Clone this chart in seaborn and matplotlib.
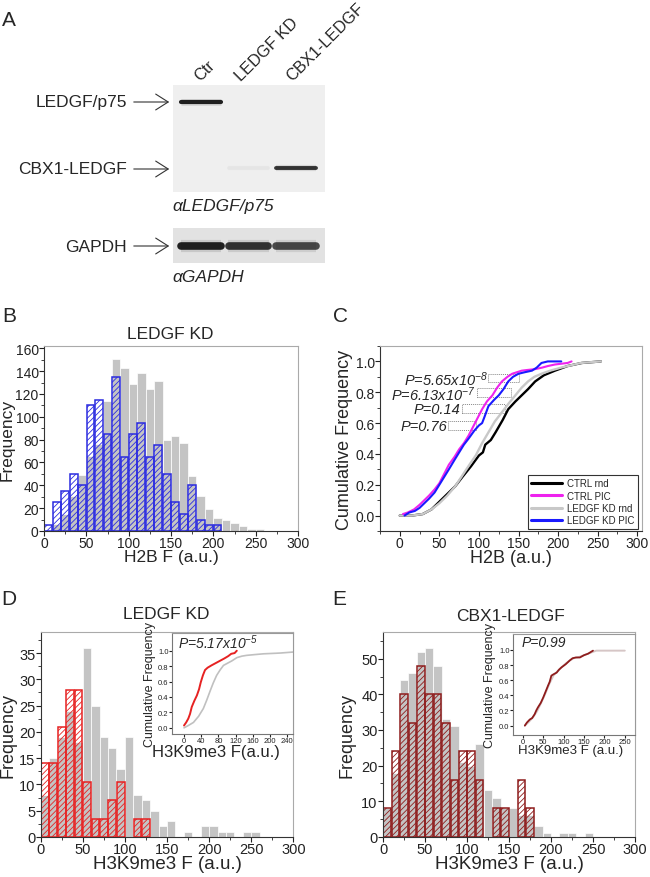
import matplotlib
matplotlib.use("Agg")
import matplotlib.pyplot as plt
import seaborn as sns
from matplotlib.patches import Rectangle, FancyArrowPatch
from matplotlib.lines import Line2D
from matplotlib.ticker import MultipleLocator

sns.set_style("ticks")
plt.rcParams['font.family'] = ['Liberation Sans', 'DejaVu Sans']
plt.rcParams['mathtext.fontset'] = 'custom'
plt.rcParams['mathtext.rm'] = 'Liberation Sans:italic'
plt.rcParams['mathtext.it'] = 'Liberation Sans:italic'
plt.rcParams['hatch.linewidth'] = 0.6

# ---------------- data ----------------
# A: western blot, band signal per lane (0 = no band)
lanes = ["Ctr", "LEDGF KD", "CBX1-LEDGF"]
ledgf_p75 = [0.95, 0.0, 0.0]
cbx1_ledgf = [0.0, 0.04, 0.85]
gapdh = [0.95, 0.85, 0.75]

# B: H2B F histogram (LEDGF KD), bins of 10 starting at 0
bins = list(range(0, 270, 10))
h2b_rnd = [0, 6, 15, 31, 49, 66, 76, 114, 151, 143, 129, 138, 124, 131, 80, 83, 77, 48, 31, 19, 11, 10, 7, 4, 2, 2]
h2b_pic = [5, 25, 35, 50, 40, 110, 115, 85, 135, 65, 85, 95, 65, 75, 50, 25, 15, 40, 10, 5, 5]

# C: cumulative frequency of H2B
ctrl_rnd_x = [0, 15, 29, 40, 50, 60, 70, 79, 90, 100, 105, 108, 115, 121, 130, 137, 146, 154, 162, 171, 182, 196, 212, 230, 254]
ctrl_rnd_y = [0, 0, 0.01, 0.04, 0.09, 0.14, 0.19, 0.25, 0.32, 0.39, 0.41, 0.46, 0.49, 0.54, 0.62, 0.69, 0.74, 0.78, 0.82, 0.87, 0.91, 0.94, 0.97, 0.99, 1.0]
ctrl_pic_x = [4, 10, 18, 25, 31, 37, 44, 50, 56, 62, 69, 75, 81, 87, 92, 96, 100, 104, 110, 117, 123, 129, 136, 142, 148, 154, 162, 171, 180, 187, 196, 204, 212, 217]
ctrl_pic_y = [0.01, 0.02, 0.04, 0.07, 0.10, 0.13, 0.17, 0.21, 0.27, 0.33, 0.38, 0.43, 0.47, 0.52, 0.57, 0.61, 0.65, 0.69, 0.74, 0.78, 0.83, 0.87, 0.90, 0.92, 0.93, 0.94, 0.945, 0.95, 0.96, 0.97, 0.98, 0.985, 0.99, 1.0]
kd_rnd_x = [0, 15, 29, 40, 50, 60, 70, 79, 88, 96, 104, 112, 120, 129, 138, 146, 154, 162, 170, 179, 190, 204, 229, 254]
kd_rnd_y = [0, 0, 0.01, 0.04, 0.08, 0.13, 0.19, 0.26, 0.33, 0.39, 0.47, 0.54, 0.61, 0.67, 0.73, 0.78, 0.83, 0.87, 0.90, 0.92, 0.94, 0.96, 0.99, 1.0]
kd_pic_x = [6, 12, 19, 25, 31, 37, 44, 50, 56, 62, 69, 75, 81, 87, 94, 100, 104, 107, 112, 119, 125, 131, 137, 143, 150, 158, 167, 173, 179, 187, 195, 204]
kd_pic_y = [0, 0.02, 0.03, 0.05, 0.08, 0.11, 0.15, 0.20, 0.25, 0.30, 0.36, 0.41, 0.46, 0.50, 0.55, 0.585, 0.60, 0.64, 0.71, 0.75, 0.78, 0.82, 0.87, 0.90, 0.92, 0.93, 0.94, 0.96, 0.99, 1.0, 1.0, 1.0]
p_labels = [r"P=5.65x10$^{-8}$", r"P=6.13x10$^{-7}$", "P=0.14", "P=0.76"]

# D: H3K9me3 F histogram (LEDGF KD)
d_rnd = [8, 15, 19, 24, 18, 36, 25, 19, 17, 13, 19, 8, 7, 5, 2, 3, 0, 1, 0, 2, 2, 1, 1, 0, 1, 1]
d_pic = [14, 14, 21, 28, 28, 10.5, 3.5, 3.5, 7, 10.5, 0, 3.5, 3.5]
d_rnd_cx = [0, 10, 22, 34, 45, 53, 61, 68, 76, 84, 92, 102, 112, 123, 135, 146, 165, 185, 205, 224, 259]
d_rnd_cy = [0, 0.03, 0.07, 0.15, 0.25, 0.36, 0.48, 0.58, 0.68, 0.75, 0.81, 0.84, 0.87, 0.91, 0.93, 0.94, 0.95, 0.96, 0.965, 0.97, 0.985]
d_pic_cx = [0, 5, 10, 14, 18, 24, 30, 35, 39, 44, 49, 55, 64, 74, 84, 94, 103, 110, 118, 123]
d_pic_cy = [0.03, 0.07, 0.12, 0.18, 0.27, 0.35, 0.42, 0.50, 0.59, 0.68, 0.75, 0.78, 0.81, 0.84, 0.87, 0.90, 0.93, 0.96, 0.97, 1.0]

# E: H3K9me3 F histogram (CBX1-LEDGF)
e_rnd = [8, 18, 44, 46, 52, 53, 48, 33, 31, 21, 20, 26, 13, 11, 8, 8, 6, 6, 3, 1, 0, 1, 1, 0, 1]
e_pic = [8, 24, 40, 32, 48, 40, 40, 32, 16, 24, 24, 16, 0, 8, 8, 0, 16, 8]
e_rnd_cx = [5, 15, 25, 35, 45, 55, 65, 75, 85, 95, 105, 115, 125, 140, 155, 170, 180, 200, 225, 250]
e_rnd_cy = [0.0, 0.05, 0.11, 0.19, 0.30, 0.42, 0.55, 0.66, 0.72, 0.77, 0.82, 0.86, 0.89, 0.91, 0.94, 0.97, 0.99, 0.99, 0.99, 0.99]
e_pic_cx = [5, 10, 17, 23, 29, 33, 37, 44, 50, 56, 62, 66, 70, 76, 83, 89, 95, 105, 115, 122, 130, 140, 150, 160, 172]
e_pic_cy = [0.0, 0.04, 0.08, 0.10, 0.15, 0.20, 0.24, 0.30, 0.37, 0.45, 0.53, 0.58, 0.66, 0.68, 0.70, 0.74, 0.77, 0.81, 0.86, 0.89, 0.90, 0.90, 0.93, 0.95, 0.99]

GRAY = "#c4c4c4"
BLUE = "#2b2be0"
RED = "#e62222"
DARKRED = "#8e1c1c"

W, H = 650, 878
fig = plt.figure(figsize=(W / 100, H / 100), dpi=100)


def fx(px):
    return px / W


def fy(py):
    return 1 - py / H


def axes_px(left, top, right, bottom):
    return fig.add_axes([fx(left), fy(bottom), (right - left) / W, (bottom - top) / H])


def style_axes(ax, labelsize=10, major=3.5, minor=2, pad=0.3, frame="#aaaaaa"):
    for side in ["left", "bottom"]:
        ax.spines[side].set_color("#333333")
        ax.spines[side].set_linewidth(0.8)
    for side in ["top", "right"]:
        ax.spines[side].set_visible(True)
        ax.spines[side].set_color(frame)
        ax.spines[side].set_linewidth(0.8)
    ax.tick_params(which="major", direction="out", length=major, width=0.8, labelsize=labelsize,
                   pad=pad, colors="#222222")
    ax.tick_params(which="minor", direction="out", length=minor, width=0.6, colors="#222222")


def hist_layer(ax, counts, color, hatched=False):
    centers = [b + 5 for b in bins[:len(counts)]]
    edges = bins[:len(counts) + 1]
    n0 = len(ax.patches)
    sns.histplot(x=centers, weights=counts, bins=edges, ax=ax, color=color, alpha=1,
                 shrink=0.92 if hatched else 1.0,
                 edgecolor="white" if not hatched else color,
                 linewidth=0.5 if not hatched else 1.1)
    for p in ax.patches[n0:]:
        if p.get_height() == 0:
            p.set_visible(False)
            continue
        if hatched:
            p.set_facecolor("none")
            p.set_edgecolor(color)
            p.set_hatch("//////")
            if hasattr(p, "set_hatchcolor"):
                p.set_hatchcolor(color)


def cdf_line(ax, xs, ys, color, lw):
    sns.lineplot(x=xs, y=ys, ax=ax, color=color, linewidth=lw, estimator=None, sort=False,
                 legend=False)


# ---------------- A: blot ----------------
blot1 = axes_px(173, 86, 325, 193)
blot2 = axes_px(173, 229, 325, 264)
for ax, bg in [(blot1, "#efefef"), (blot2, "#e2e2e2")]:
    ax.set_facecolor(bg)
    ax.set_xlim(-0.59, 2.61)
    ax.set_ylim(0, 1)
    ax.set_xticks([])
    ax.set_yticks([])
    for s in ax.spines.values():
        s.set_visible(False)


def bands(ax, signal, row, lw):
    for i, s in enumerate(signal):
        if s <= 0:
            continue
        ax.plot([i - 0.43, i + 0.43], [row, row], color="black", alpha=s * 0.12, lw=lw * 1.6,
                solid_capstyle="butt")
        ax.plot([i - 0.42, i + 0.42], [row, row], color="#151515", alpha=s, lw=lw,
                solid_capstyle="round")


bands(blot1, ledgf_p75, 0.84, 3.0)
bands(blot1, cbx1_ledgf, 0.22, 2.8)
bands(blot2, gapdh, 0.5, 5.5)

lane_label_px = [(200, 82), (241, 82), (292, 82)]
for name, (px, py) in zip(lanes, lane_label_px):
    fig.text(fx(px), fy(py), name, rotation=45, rotation_mode="anchor", ha="left",
             va="baseline", fontsize=11.8)

for name, py in [("LEDGF/p75", 103), ("CBX1-LEDGF", 170), ("GAPDH", 247)]:
    fig.text(fx(127), fy(py), name, ha="right", va="center", fontsize=12.5)
    fig.add_artist(FancyArrowPatch(
        (fx(131), fy(py)), (fx(172), fy(py)), transform=fig.transFigure,
        arrowstyle="->,head_length=3.0,head_width=1.9", color="#333333", lw=0.8,
        mutation_scale=3))
fig.text(fx(172), fy(207), "αLEDGF/p75", style="italic", fontsize=12.5, va="center")
fig.text(fx(172), fy(278), "αGAPDH", style="italic", fontsize=12.5, va="center")

# panel letters
for letter, px, py in [("A", 9, 20), ("B", 9, 317), ("C", 340, 317), ("D", 9, 600), ("E", 339, 600)]:
    fig.text(fx(px), fy(py), letter, ha="center", va="center", fontsize=15)

# ---------------- B ----------------
axB = axes_px(44, 347, 298, 532)
hist_layer(axB, h2b_rnd, GRAY)
hist_layer(axB, h2b_pic, BLUE, hatched=True)
axB.set_xlim(0, 300)
axB.set_ylim(0, 162)
axB.set_xticks(range(0, 301, 50))
axB.set_yticks(range(0, 161, 20))
axB.xaxis.set_minor_locator(MultipleLocator(25))
axB.yaxis.set_minor_locator(MultipleLocator(10))
style_axes(axB)
axB.set_xlabel("H2B F (a.u.)", fontsize=12.5)
axB.set_ylabel("Frequency", fontsize=12.5)
axB.xaxis.set_label_coords(0.5, -0.1)
axB.yaxis.set_label_coords(-0.115, 0.5)
axB.text(0.496, 1.065, "LEDGF KD", transform=axB.transAxes, ha="center", va="center", fontsize=12.5)

# ---------------- C ----------------
axC = axes_px(380, 347, 642, 532)
cdf_line(axC, ctrl_rnd_x, ctrl_rnd_y, "black", 1.7)
cdf_line(axC, kd_rnd_x, kd_rnd_y, "#c8c8c8", 1.7)
cdf_line(axC, ctrl_pic_x, ctrl_pic_y, "#ee22ee", 1.5)
cdf_line(axC, kd_pic_x, kd_pic_y, "#1a1aff", 1.5)
axC.set_xlim(-25, 306)
axC.set_ylim(-0.1, 1.1)
axC.set_xticks(range(0, 301, 50))
axC.set_yticks([0, 0.2, 0.4, 0.6, 0.8, 1.0])
axC.set_yticklabels(["0.0", "0.2", "0.4", "0.6", "0.8", "1.0"])
axC.xaxis.set_minor_locator(MultipleLocator(25))
axC.yaxis.set_minor_locator(MultipleLocator(0.1))
style_axes(axC)
axC.set_xlabel("H2B (a.u.)", fontsize=13)
axC.set_ylabel("Cumulative Frequency", fontsize=13)
axC.xaxis.set_label_coords(0.5, -0.1)
axC.yaxis.set_label_coords(-0.103, 0.5)

brackets = [(112, 150, 0.866, 0.92), (97, 140, 0.767, 0.827), (78, 133, 0.667, 0.723), (61, 96, 0.557, 0.613)]
for lab, (x0, x1, y0, y1) in zip(p_labels, brackets):
    axC.add_patch(Rectangle((x0, y0), x1 - x0, y1 - y0, fill=False, linestyle=(0, (1, 1)),
                            edgecolor="#888888", lw=0.7))
    axC.text(x0 - 1, (y0 + y1) / 2 - 0.005, lab, ha="right", va="center", fontsize=10.5,
             style="italic")

handles = [Line2D([], [], color="black", lw=2.2), Line2D([], [], color="#ee22ee", lw=2.2),
           Line2D([], [], color="#c8c8c8", lw=2.2), Line2D([], [], color="#1a1aff", lw=2.2)]
leg = axC.legend(handles, ["CTRL rnd", "CTRL PIC", "LEDGF KD rnd", "LEDGF KD PIC"],
                 loc="lower right", bbox_to_anchor=(0.985, 0.012), fontsize=7, frameon=True,
                 fancybox=False, edgecolor="black", handlelength=3.2, labelspacing=0.25,
                 borderpad=0.35, handletextpad=0.5, borderaxespad=0)
leg.get_frame().set_linewidth(0.8)

# ---------------- D ----------------
axD = axes_px(40.7, 633, 293.3, 838)
hist_layer(axD, d_rnd, GRAY)
hist_layer(axD, d_pic, RED, hatched=True)
axD.set_xlim(0, 300)
axD.set_ylim(0, 39)
axD.set_xticks(range(0, 301, 50))
axD.set_yticks(range(0, 36, 5))
axD.xaxis.set_minor_locator(MultipleLocator(25))
axD.yaxis.set_minor_locator(MultipleLocator(2.5))
style_axes(axD, labelsize=10.5)
axD.set_xlabel("H3K9me3 F (a.u.)", fontsize=13.5)
axD.set_ylabel("Frequency", fontsize=13)
axD.xaxis.set_label_coords(0.5, -0.088)
axD.yaxis.set_label_coords(-0.094, 0.5)
axD.text(0.497, 1.088, "LEDGF KD", transform=axD.transAxes, ha="center", va="center", fontsize=12.5)

axDi = axes_px(172, 634, 293, 735)
cdf_line(axDi, d_rnd_cx, d_rnd_cy, "#c0c0c0", 1.2)
cdf_line(axDi, d_pic_cx, d_pic_cy, RED, 1.4)
axDi.set_xlim(-28, 254)
axDi.set_ylim(-0.08, 1.23)
axDi.set_xticks(range(0, 241, 40))
axDi.set_yticks([0, 0.2, 0.4, 0.6, 0.8, 1.0])
axDi.set_yticklabels(["0.0", "0.2", "0.4", "0.6", "0.8", "1.0"])
style_axes(axDi, labelsize=5.5, major=2, pad=0.5, frame="#999999")
axDi.spines["left"].set_color("#777777")
axDi.spines["bottom"].set_color("#777777")
axDi.set_xlabel("H3K9me3 F(a.u.)", fontsize=12)
axDi.set_ylabel("Cumulative Frequency", fontsize=9)
axDi.xaxis.set_label_coords(0.36, -0.1)
axDi.yaxis.set_label_coords(-0.135, 0.5)
axDi.text(0.05, 0.91, r"P=5.17x10$^{-5}$", transform=axDi.transAxes, ha="left", va="center",
          fontsize=10, style="italic")

# ---------------- E ----------------
axE = axes_px(383, 633, 635, 837.7)
hist_layer(axE, e_rnd, GRAY)
hist_layer(axE, e_pic, DARKRED, hatched=True)
axE.set_xlim(0, 300)
axE.set_ylim(0, 57.5)
axE.set_xticks(range(0, 301, 50))
axE.set_yticks(range(0, 51, 10))
axE.xaxis.set_minor_locator(MultipleLocator(25))
axE.yaxis.set_minor_locator(MultipleLocator(5))
style_axes(axE, labelsize=10.5)
axE.set_xlabel("H3K9me3 F (a.u.)", fontsize=13.5)
axE.set_ylabel("Frequency", fontsize=13)
axE.xaxis.set_label_coords(0.5, -0.088)
axE.yaxis.set_label_coords(-0.111, 0.5)
axE.text(0.504, 1.083, "CBX1-LEDGF", transform=axE.transAxes, ha="center", va="center", fontsize=12.5)

axEi = axes_px(513, 635, 635, 735.7)
cdf_line(axEi, e_rnd_cx, e_rnd_cy, "#d6c6c6", 1.4)
cdf_line(axEi, e_pic_cx, e_pic_cy, DARKRED, 1.3)
axEi.set_xlim(-24, 275)
axEi.set_ylim(-0.12, 1.21)
axEi.set_xticks(range(0, 251, 50))
axEi.set_yticks([0, 0.2, 0.4, 0.6, 0.8, 1.0])
axEi.set_yticklabels(["0.0", "0.2", "0.4", "0.6", "0.8", "1.0"])
style_axes(axEi, labelsize=5.5, major=2, pad=0.5, frame="#999999")
axEi.spines["left"].set_color("#777777")
axEi.spines["bottom"].set_color("#777777")
axEi.set_xlabel("H3K9me3 F (a.u.)", fontsize=9.5)
axEi.set_ylabel("Cumulative Frequency", fontsize=9)
axEi.xaxis.set_label_coords(0.475, -0.09)
axEi.yaxis.set_label_coords(-0.14, 0.5)
axEi.text(0.074, 0.92, "P=0.99", transform=axEi.transAxes, ha="left", va="center",
          fontsize=10, style="italic")

fig.savefig("out.png", dpi=100)
